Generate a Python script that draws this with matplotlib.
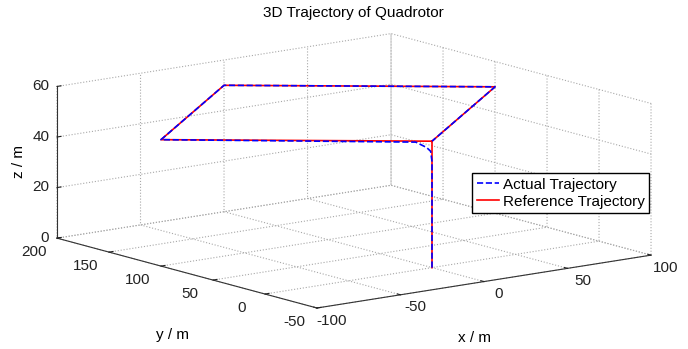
import matplotlib
matplotlib.use("Agg")
import matplotlib.pyplot as plt

plt.rcParams['font.family'] = ['Liberation Sans', 'DejaVu Sans']
plt.rcParams['font.size'] = 11
plt.rcParams['axes.unicode_minus'] = False

# reference path: climb, then fly the diamond at 50 m
ref_x = [0, 0, -100, 0, 100, 0]
ref_y = [0, 0, 100, 200, 100, 0]
ref_z = [0, 50, 50, 50, 50, 50]

# actual flown path (cuts the first corner slightly)
act_x = [0, 0, -0.5, -2, -6, -100, 0, 100, 0]
act_y = [0, 0, 0.5, 2, 6, 100, 200, 100, 0]
act_z = [0, 42, 46, 47.5, 49.6, 50, 50, 50, 50]

x_ticks = [-100, -50, 0, 50, 100]
y_ticks = [-50, 0, 50, 100, 150, 200]
z_ticks = [0, 20, 40, 60]

fig = plt.figure(figsize=(6.88, 3.49), dpi=100)
ax = fig.add_axes([0.0077, -0.0029, 1, 1], projection='3d', proj_type='ortho')
ax.computed_zorder = False
# matlab-like default view, squashed to fill the figure
ax.view_init(elev=11.9, azim=-127.5)
ax.set_box_aspect((421, 427, 155), zoom=1.723)

ref_line, = ax.plot(ref_x, ref_y, ref_z, 'r-', linewidth=1.2, label='Reference Trajectory')
act_line, = ax.plot(act_x, act_y, act_z, 'b--', linewidth=1.2, label='Actual Trajectory')
ref_line.set_clip_on(False)
act_line.set_clip_on(False)

ax.set_xlim(-100, 100)
ax.set_ylim(-50, 200)
ax.set_zlim(0, 60)
ax.set_xticks(x_ticks)
ax.set_yticks(y_ticks)
ax.set_zticks(z_ticks)
ax.tick_params(axis='x', pad=-0.5, colors='#222222')
ax.tick_params(axis='y', pad=1.0, colors='#222222')
ax.tick_params(axis='z', pad=-6.3, colors='#222222')
for t in ax.get_xticklabels() + ax.get_yticklabels():
    t.set_verticalalignment('center')
for t in ax.get_zticklabels():
    t.set_horizontalalignment('right')
    t.set_verticalalignment('center')

for axis in (ax.xaxis, ax.yaxis, ax.zaxis):
    axis.set_pane_color((1, 1, 1, 0))
    axis.pane.set_edgecolor((1, 1, 1, 0))
    axis._axinfo['grid'].update(color='#a8a8a8', linestyle=':', linewidth=0.8)
    axis._axinfo['tick'].update(inward_factor=0, outward_factor=0.15)
    axis.line.set_color('#333333')
    axis.line.set_linewidth(0.8)

fig.text(0.513, 0.963, '3D Trajectory of Quadrotor', ha='center', va='center')
fig.text(474 / 688, 1 - 338 / 349, 'x / m', ha='center', va='center')
fig.text(173 / 688, 1 - 335 / 349, 'y / m', ha='center', va='center')
fig.text(19 / 688, 1 - 162 / 349, 'z / m', ha='center', va='center', rotation=90)
fig.legend(handles=[act_line, ref_line], loc='upper left', bbox_to_anchor=(0.686, 0.504),
           fancybox=False, edgecolor='black', framealpha=1, handlelength=1.5,
           handletextpad=0.2, borderpad=0.3, labelspacing=0.2, borderaxespad=0)

fig.savefig('out.png', dpi=100, facecolor='white')
